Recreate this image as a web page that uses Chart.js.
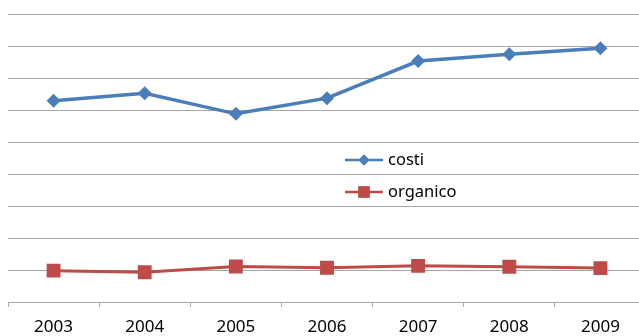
<!DOCTYPE html>
<html>
<head>
<meta charset="utf-8">
<script src="https://cdn.jsdelivr.net/npm/chart.js@4/dist/chart.umd.min.js"></script>
<style>
  html, body { margin: 0; padding: 0; background: #fff; overflow: hidden; }
  #wrap { width: 639px; height: 336px; overflow: hidden; position: relative; }
  #box { width: 650px; height: 336px; position: absolute; left: 0; top: 0; }
</style>
</head>
<body>
<div id="wrap"><div id="box"><canvas id="chart"></canvas></div></div>
<script>
const years = ['2003', '2004', '2005', '2006', '2007', '2008', '2009'];
const costi = [6.29, 6.52, 5.88, 6.37, 7.53, 7.74, 7.93];
const organico = [0.98, 0.93, 1.11, 1.07, 1.13, 1.10, 1.06];

const blue = '#4a7ebb';
const red = '#be4b48';
const gridGray = '#a6a6a6';

// legend sits inside the plot, as in the original
const insideLegend = {
  id: 'insideLegend',
  afterDraw(chart) {
    const { ctx } = chart;
    const rows = [{ y: 160, r: 5.5 }, { y: 192, r: 8 }];
    ctx.save();
    chart.data.datasets.forEach((ds, i) => {
      const y = rows[i].y;
      ctx.strokeStyle = ds.borderColor;
      ctx.lineWidth = 2.5;
      ctx.beginPath();
      ctx.moveTo(345, y);
      ctx.lineTo(383, y);
      ctx.stroke();
      ctx.fillStyle = ds.backgroundColor;
      Chart.helpers.drawPoint(ctx, { pointStyle: ds.pointStyle, radius: rows[i].r, borderWidth: 0 }, 364, y);
      ctx.fill();
      ctx.fillStyle = '#000';
      ctx.font = '16.5px "Noto Sans"';
      ctx.textBaseline = 'middle';
      ctx.fillText(ds.label, 388, y);
    });
    ctx.restore();
  }
};

new Chart(document.getElementById('chart'), {
  type: 'line',
  plugins: [insideLegend],
  data: {
    labels: years,
    datasets: [
      {
        label: 'costi',
        data: costi,
        borderColor: blue,
        backgroundColor: blue,
        borderWidth: 3.5,
        pointStyle: 'rectRot',
        pointRadius: 7,
        pointBorderWidth: 0,
        tension: 0
      },
      {
        label: 'organico',
        data: organico,
        borderColor: red,
        backgroundColor: red,
        borderWidth: 3,
        pointStyle: 'rect',
        pointRadius: 9.8,
        pointBorderWidth: 0,
        tension: 0
      }
    ]
  },
  options: {
    responsive: true,
    maintainAspectRatio: false,
    animation: false,
    layout: {
      autoPadding: false,
      padding: { left: 8, top: 14, right: 4, bottom: 0 }
    },
    scales: {
      y: {
        min: 0,
        max: 9,
        ticks: { display: false, stepSize: 1 },
        grid: { color: gridGray, lineWidth: 1, drawTicks: false },
        border: { display: false },
        afterFit: (axis) => { axis.width = 0; }
      },
      x: {
        offset: true,
        grid: {
          offset: true,
          drawOnChartArea: false,
          drawTicks: true,
          tickLength: 5,
          color: gridGray
        },
        border: { display: true, color: gridGray, width: 1 },
        ticks: {
          color: '#000',
          padding: 10,
          font: { family: 'Noto Sans', size: 17 }
        },
        afterFit: (axis) => { axis.height = 34; }
      }
    },
    plugins: {
      legend: { display: false },
      tooltip: { enabled: false }
    }
  }
});
</script>
</body>
</html>
